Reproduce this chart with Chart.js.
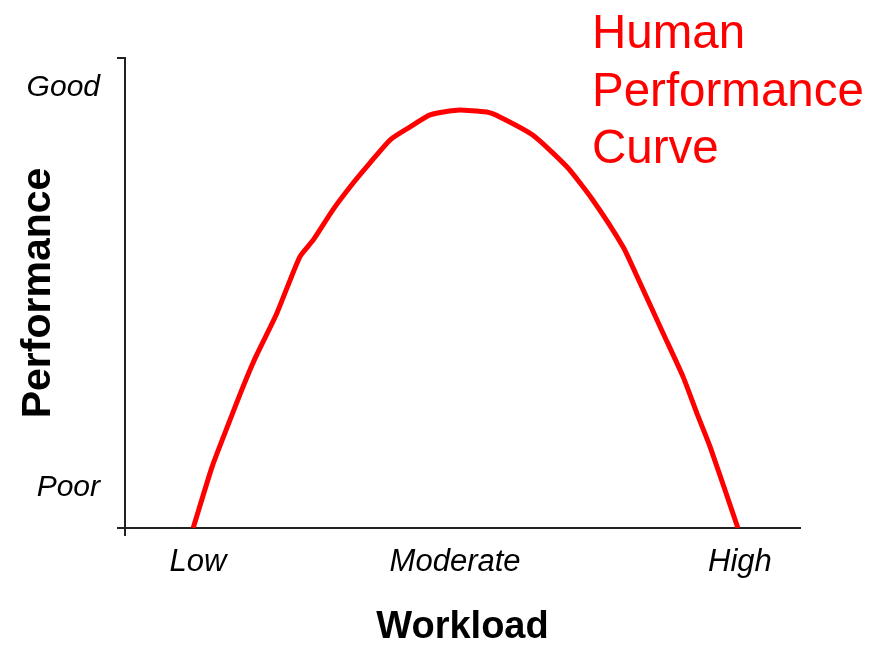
<!DOCTYPE html>
<html>
<head>
<meta charset="utf-8">
<title>Human Performance Curve</title>
<script src="https://cdn.jsdelivr.net/npm/chart.js@4"></script>
<style>
  body { margin: 0; background: #fff; }
  #wrap { position: relative; width: 883px; height: 648px; }
  #curveTitle {
    position: absolute; left: 592px; top: 3px;
    font: 47.5px "Liberation Sans", Arial, sans-serif;
    line-height: 57.5px; color: #ff0000;
  }
</style>
</head>
<body>
<div id="wrap">
  <canvas id="myChart" width="883" height="648"></canvas>
  <div id="curveTitle">Human<br>Performance<br>Curve</div>
</div>
<script>
// workload (0-100) vs performance (0-100)
const workload = [10.1, 12.9, 15.1, 17.3, 19.3, 22.5, 25.9, 27.9, 30.8, 33.8, 36.3, 39.3, 42.2, 45.2,
  49.2, 53.6, 55.6, 60.4, 65.5, 69.3, 73.8, 75.9, 79.7, 82.7, 84.7, 86.7, 90.8];
const performance = [0, 13.0, 21.3, 29.4, 36.2, 45.7, 57.7, 61.3, 67.7, 73.4, 77.7, 82.6, 85.3, 87.9,
  88.9, 88.5, 87.4, 83.6, 76.8, 69.8, 59.8, 53.4, 41.5, 32.1, 24.5, 17.2, 0];

const xTickValues = [10.8, 48.9, 91.1];
const xTickLabels = ["Low", "Moderate", "High"];
const yTickValues = [8.5, 93.6];
const yTickLabels = ["Poor", "Good"];

const fontFamily = '"Liberation Sans", Arial, sans-serif';
const axisColor = "#222";

const points = workload.map((x, i) => ({ x: x, y: performance[i] }));

// only the ends of the axes get a small tick mark
const endTick = (ctx) => (ctx.tick && (ctx.tick.value === 0 || ctx.tick.value === 100) ? axisColor : "rgba(0,0,0,0)");

const config = {
  type: "line",
  data: {
    datasets: [
      {
        data: points,
        borderColor: "#ff0000",
        borderWidth: 5,
        pointRadius: 0,
        tension: 0.2,
        fill: false,
      },
    ],
  },
  options: {
    responsive: false,
    animation: false,
    layout: { padding: { top: 58, right: 83, left: 0, bottom: 0 } },
    plugins: {
      legend: { display: false },
      tooltip: { enabled: false },
    },
    scales: {
      x: {
        type: "linear",
        min: 0,
        max: 100,
        afterBuildTicks: (scale) => {
          scale.ticks = [0].concat(xTickValues).map((v) => ({ value: v }));
        },
        afterFit: (scale) => { scale.height = 120; },
        ticks: {
          autoSkip: false,
          maxRotation: 0,
          padding: 8,
          color: "#000",
          font: { family: fontFamily, size: 31, style: "italic", lineHeight: 1.2 },
          callback: (value, index) => (index === 0 ? "" : xTickLabels[index - 1]),
        },
        grid: { drawOnChartArea: false, tickLength: 8, lineWidth: 2, color: endTick },
        border: { display: true, color: axisColor, width: 2 },
        title: {
          display: true,
          text: "Workload",
          color: "#000",
          padding: { top: 0, bottom: 1 },
          font: { family: fontFamily, size: 38, weight: "bold", lineHeight: 1 },
        },
      },
      y: {
        type: "linear",
        min: 0,
        max: 100,
        afterBuildTicks: (scale) => {
          scale.ticks = [0].concat(yTickValues, [100]).map((v) => ({ value: v }));
        },
        afterFit: (scale) => { scale.width = 125; },
        ticks: {
          autoSkip: false,
          padding: 17,
          color: "#000",
          font: { family: fontFamily, size: 30, style: "italic", lineHeight: 1.2 },
          callback: (value, index) => (index === 0 || index === 3 ? "" : yTickLabels[index - 1]),
        },
        grid: { drawOnChartArea: false, tickLength: 8, lineWidth: 2, color: endTick },
        border: { display: true, color: axisColor, width: 2 },
        title: {
          display: true,
          text: "Performance",
          color: "#000",
          padding: { top: 18, bottom: 0 },
          font: { family: fontFamily, size: 41, weight: "bold", lineHeight: 1 },
        },
      },
    },
  },
};

var myChart = new Chart(document.getElementById("myChart"), config);
</script>
</body>
</html>
